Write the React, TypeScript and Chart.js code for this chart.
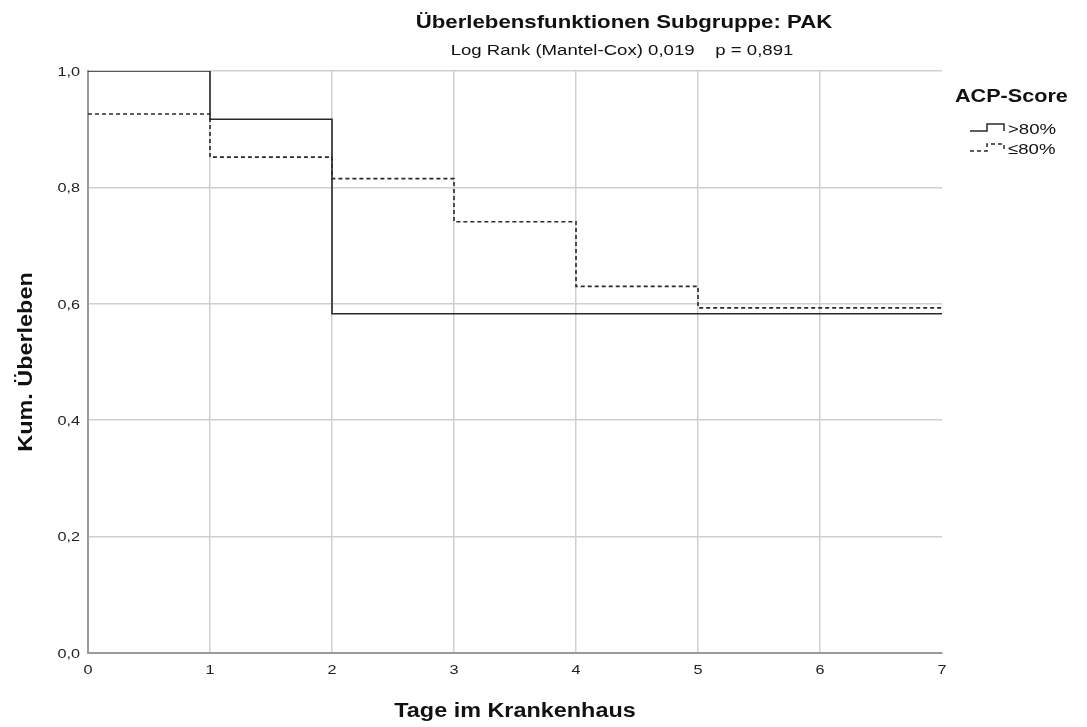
import React, { useEffect, useRef } from "react";
import { Chart, registerables } from "chart.js";

Chart.register(...registerables);

const titleText = "Überlebensfunktionen Subgruppe: PAK";
const subtitleText = "Log Rank (Mantel-Cox) 0,019    p = 0,891";
const xTitle = "Tage im Krankenhaus";
const yTitle = "Kum. Überleben";
const legendTitle = "ACP-Score";

const days = [0, 1, 2, 3, 4, 5, 7];
const survHigh = [1.0, 0.917, 0.583, 0.583, 0.583, 0.583, 0.583];
const survLow = [0.926, 0.852, 0.815, 0.741, 0.63, 0.593, 0.593];
const seriesLabels = [">80%", "≤80%"];
const yTicks = [0, 0.2, 0.4, 0.6, 0.8, 1.0];
const xTicks = [0, 1, 2, 3, 4, 5, 6, 7];

const FONT = "'Liberation Sans', Arial, sans-serif";
const SX = 1.2;

function stretched(
  ctx: CanvasRenderingContext2D,
  text: string,
  x: number,
  y: number,
  align: CanvasTextAlign,
  baseline: CanvasTextBaseline = "alphabetic"
) {
  ctx.save();
  ctx.translate(x, y);
  ctx.scale(SX, 1);
  ctx.textAlign = align;
  ctx.textBaseline = baseline;
  ctx.fillText(text, 0, 0);
  ctx.restore();
}

const overlayPlugin = {
  id: "overlay",
  afterDraw(chart: any) {
    const ctx = chart.ctx as CanvasRenderingContext2D;
    const area = chart.chartArea;
    ctx.save();
    // tick labels
    ctx.font = `13.5px ${FONT}`;
    ctx.fillStyle = "#222";
    const ys = chart.scales.y;
    ys.ticks.forEach((t: any) => {
      stretched(ctx, Number(t.value).toFixed(1).replace(".", ","), 80, ys.getPixelForValue(t.value) + 1, "right", "middle");
    });
    const xs = chart.scales.x;
    xs.ticks.forEach((t: any) => {
      stretched(ctx, String(t.value), xs.getPixelForValue(t.value), 670, "center", "middle");
    });
    ctx.fillStyle = "#111";
    // titles
    ctx.font = `bold 18.5px ${FONT}`;
    stretched(ctx, titleText, 624, 28, "center");
    ctx.font = `15.5px ${FONT}`;
    stretched(ctx, subtitleText, 622, 55, "center");
    // axis titles
    ctx.font = `bold 19.5px ${FONT}`;
    stretched(ctx, xTitle, (area.left + area.right) / 2, 717, "center");
    ctx.save();
    ctx.translate(32, (area.top + area.bottom) / 2);
    ctx.rotate(-Math.PI / 2);
    stretched(ctx, yTitle, 0, 0, "center");
    ctx.restore();
    // legend
    ctx.font = `bold 18px ${FONT}`;
    stretched(ctx, legendTitle, 955, 102, "left");
    ctx.font = `15.5px ${FONT}`;
    const ds = chart.data.datasets;
    ds.forEach((d: any, i: number) => {
      const base = 134 + i * 20;
      const lowY = base - 3;
      const highY = base - 10;
      ctx.save();
      ctx.strokeStyle = d.borderColor;
      ctx.lineWidth = 1.5;
      ctx.setLineDash(d.borderDash || []);
      ctx.beginPath();
      ctx.moveTo(970, lowY);
      ctx.lineTo(987, lowY);
      ctx.lineTo(987, highY);
      ctx.lineTo(1004, highY);
      ctx.lineTo(1004, lowY);
      ctx.stroke();
      ctx.restore();
      ctx.fillStyle = "#111";
      stretched(ctx, d.label, 1008, base, "left");
    });
    ctx.restore();
  },
};

export default function App() {
  const ref = useRef<HTMLCanvasElement>(null);
  useEffect(() => {
    if (!ref.current) return;
    const chart = new Chart(ref.current, {
      type: "line",
      data: {
        datasets: [
          {
            label: seriesLabels[0],
            data: days.map((d, i) => ({ x: d, y: survHigh[i] })),
            borderColor: "#2a2a2a",
            borderWidth: 1.6,
            stepped: "before",
            pointRadius: 0,
            fill: false,
          },
          {
            label: seriesLabels[1],
            data: days.map((d, i) => ({ x: d, y: survLow[i] })),
            borderColor: "#2a2a2a",
            borderWidth: 1.6,
            borderDash: [4, 3],
            stepped: "before",
            pointRadius: 0,
            fill: false,
          },
        ],
      },
      options: {
        responsive: false,
        animation: false,
        layout: { padding: { top: 71, right: 145, left: 0, bottom: 0 } },
        plugins: {
          legend: { display: false },
          title: { display: false },
          tooltip: { enabled: false },
        },
        scales: {
          x: {
            type: "linear",
            min: 0,
            max: 7,
            afterFit: (s: any) => {
              s.height = 74;
            },
            afterBuildTicks: (s: any) => {
              s.ticks = xTicks.map((v) => ({ value: v }));
            },
            ticks: { display: false },
            grid: {
              drawTicks: false,
              color: (c: any) => (c.tick && c.tick.value === 7 ? "rgba(0,0,0,0)" : "#cfcfcf"),
              lineWidth: 1.5,
            },
            border: { color: "#9a9a9a", width: 2 },
          },
          y: {
            min: 0,
            max: 1,
            afterFit: (s: any) => {
              s.width = 88;
            },
            afterBuildTicks: (s: any) => {
              s.ticks = yTicks.map((v) => ({ value: v }));
            },
            ticks: { display: false },
            grid: {
              drawTicks: false,
              color: "#cfcfcf",
              lineWidth: 1.5,
            },
            border: { color: "#9a9a9a", width: 2 },
          },
        },
      },
      plugins: [overlayPlugin],
    } as any);
    return () => chart.destroy();
  }, []);
  return (
    <div style={{ position: "fixed", left: 0, top: 0, width: 1087, height: 727, background: "#fff" }}>
      <canvas ref={ref} width={1087} height={727} style={{ display: "block" }} />
    </div>
  );
}
